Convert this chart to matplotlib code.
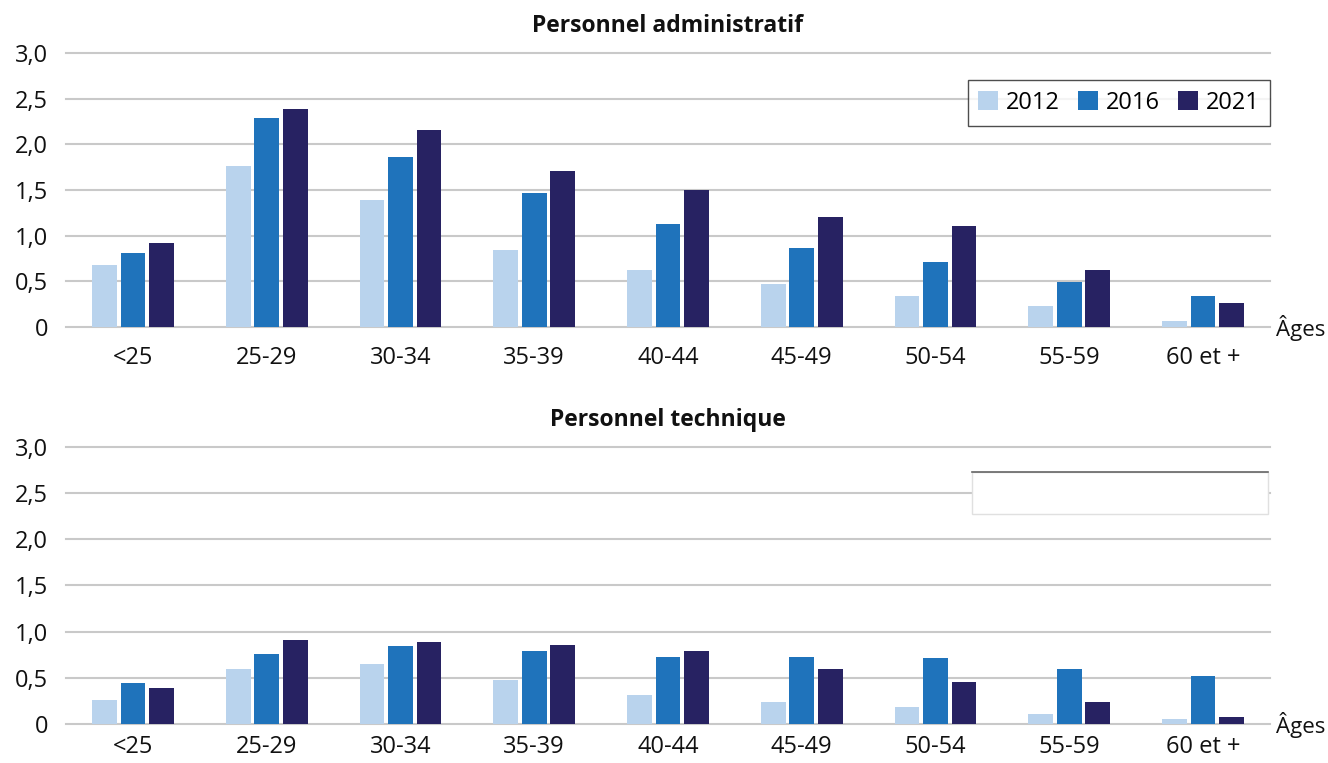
import matplotlib
matplotlib.use("Agg")
import matplotlib.pyplot as plt
import numpy as np
from matplotlib.patches import Rectangle, Patch
from matplotlib.lines import Line2D

plt.rcParams['font.family'] = ['Open Sans', 'DejaVu Sans']

categories = ["<25", "25-29", "30-34", "35-39", "40-44", "45-49", "50-54", "55-59", "60 et +"]
years = ["2012", "2016", "2021"]

admin_2012 = [0.68, 1.76, 1.39, 0.84, 0.62, 0.47, 0.34, 0.23, 0.07]
admin_2016 = [0.81, 2.29, 1.86, 1.47, 1.13, 0.87, 0.71, 0.49, 0.34]
admin_2021 = [0.92, 2.39, 2.16, 1.71, 1.50, 1.21, 1.11, 0.62, 0.26]

tech_2012 = [0.26, 0.60, 0.65, 0.48, 0.31, 0.24, 0.18, 0.11, 0.05]
tech_2016 = [0.44, 0.76, 0.84, 0.79, 0.73, 0.73, 0.71, 0.60, 0.52]
tech_2021 = [0.39, 0.91, 0.89, 0.86, 0.79, 0.60, 0.45, 0.24, 0.08]

titles = ["Personnel administratif", "Personnel technique"]
yticks = [0, 0.5, 1.0, 1.5, 2.0, 2.5, 3.0]
ytick_labels = ["0", "0,5", "1,0", "1,5", "2,0", "2,5", "3,0"]

colors = ["#B9D3ED", "#1F73BB", "#272262"]
grid_color = "#C9C9C9"

fig = plt.figure(figsize=(13.28, 7.63), dpi=100)
ax_top = fig.add_axes([0.0497, 0.5714, 0.9066, 0.3591])
ax_bot = fig.add_axes([0.0497, 0.0511, 0.9066, 0.3631])

x = np.arange(len(categories))
width = 0.185
offsets = [-0.213, 0.0, 0.213]

panels = [
    (ax_top, [admin_2012, admin_2016, admin_2021], titles[0], 14),
    (ax_bot, [tech_2012, tech_2016, tech_2021], titles[1], 8),
]

for ax, series, title, xpad in panels:
    for vals, off, col, lab in zip(series, offsets, colors, years):
        ax.bar(x + off, vals, width=width, color=col, label=lab, zorder=3)
    ax.set_xlim(-0.5, len(categories) - 0.5)
    ax.set_ylim(0, 3.0)
    ax.set_yticks(yticks)
    ax.set_yticklabels(ytick_labels)
    ax.set_xticks(x)
    ax.set_xticklabels(categories)
    for y in yticks:
        ax.axhline(y, color=grid_color, lw=1.5, zorder=1, clip_on=False)
    for s in ax.spines.values():
        s.set_visible(False)
    ax.tick_params(axis='both', length=0, labelsize=17, colors="#111111")
    ax.tick_params(axis='y', pad=13)
    ax.tick_params(axis='x', pad=xpad)
    ax.set_title(title, fontsize=16.5, fontweight='bold', pad=15, color="#111111")
    ax.text(1.005, -0.005, "Âges", transform=ax.transAxes, fontsize=16,
            ha='left', va='center', color="#111111")

# Legend on the administrative panel
handles = [Patch(facecolor=c, edgecolor='none') for c in colors]
leg = ax_top.legend(handles, years, loc='upper right', bbox_to_anchor=(1.0, 0.9),
                    ncol=3, frameon=True, fancybox=False, fontsize=17,
                    handlelength=0.85, handleheight=0.85, handletextpad=0.3,
                    columnspacing=0.8, borderpad=0.45, borderaxespad=0.0)
leg.get_frame().set_edgecolor("#222222")
leg.get_frame().set_linewidth(1.0)
leg.set_zorder(5)

# Empty legend frame on the technical panel
x0, x1 = (972 - 66) / 1204, (1268 - 66) / 1204
y0, y1 = 1 - (514 - 447) / 277, 1 - (472 - 447) / 277
ax_bot.add_patch(Rectangle((x0, y0), x1 - x0, y1 - y0, transform=ax_bot.transAxes,
                           facecolor='white', edgecolor="#E0E0E0", lw=1.0, zorder=5,
                           clip_on=False))
ax_bot.add_line(Line2D([x0, x1], [y1, y1], transform=ax_bot.transAxes,
                       color="#666666", lw=1.2, zorder=6, clip_on=False))

fig.savefig("out.png", dpi=100, facecolor='white')
